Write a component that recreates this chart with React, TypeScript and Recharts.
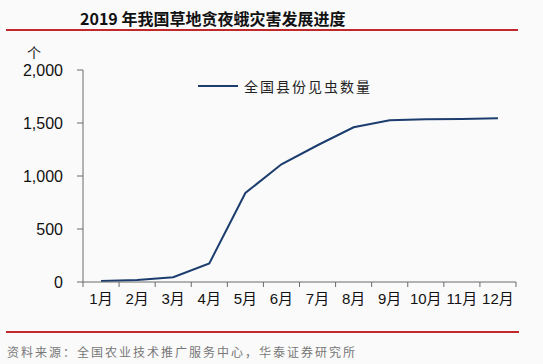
import React from "react";
import { LineChart, Line, XAxis, YAxis } from "recharts";

const MONTHS = ["1月", "2月", "3月", "4月", "5月", "6月", "7月", "8月", "9月", "10月", "11月", "12月"];
const COUNTIES = [10, 18, 45, 175, 840, 1110, 1290, 1460, 1525, 1535, 1538, 1545];
const Y_TICKS = [0, 500, 1000, 1500, 2000];
const X_BOUNDS = [0.5, 1.5, 2.5, 3.5, 4.5, 5.5, 6.5, 7.5, 8.5, 9.5, 10.5, 11.5, 12.5];

const SERIES_NAME = "全国县份见虫数量";
const TITLE = "2019 年我国草地贪夜蛾灾害发展进度";
const SOURCE = "资料来源：全国农业技术推广服务中心，华泰证券研究所";

const data = MONTHS.map((m, i) => ({ idx: i + 1, month: m, value: COUNTIES[i] }));

const W = 543;
const H = 364;
const MARGIN = { top: 70, right: 27, bottom: 52, left: 23 };
const Y_AXIS_W = 60;
const PLOT_W = W - MARGIN.left - MARGIN.right - Y_AXIS_W;
const HALF_BAND = PLOT_W / MONTHS.length / 2;

const NAVY = "#1c3d6e";
const AXIS = "#6b6b6b";
const BG = "#fafafa";
const RED = "#c0282b";
const NUM_FONT = "'Liberation Sans', Arial, 'Noto Sans CJK SC', sans-serif";
const CJK_FONT = "'Noto Sans CJK SC', 'Liberation Sans', sans-serif";

// label sits in the middle of the band, tick line at its boundary
function MonthTick(props: any) {
  const { x, y, payload } = props;
  const i = Math.round(payload.value - 0.5);
  if (i >= MONTHS.length) return null;
  return (
    <text x={x + HALF_BAND} y={y + 15} textAnchor="middle" fontSize={15} fill="#111" fontFamily={NUM_FONT}>
      {MONTHS[i]}
    </text>
  );
}

export default function App() {
  return (
    <div style={{ position: "absolute", left: 0, top: 0, width: W, height: H, background: BG, overflow: "hidden" }}>
      <div
        style={{
          position: "absolute",
          left: 80,
          top: 6,
          fontFamily: CJK_FONT,
          fontWeight: "bold",
          fontSize: 16,
          color: "#111",
          whiteSpace: "nowrap",
        }}
      >
        {TITLE}
      </div>
      <div style={{ position: "absolute", left: 6, top: 29, width: 512, height: 2, background: RED }} />
      <div style={{ position: "absolute", left: 27, top: 42, fontFamily: CJK_FONT, fontSize: 14, color: "#222" }}>个</div>

      <div style={{ position: "absolute", left: 0, top: 0 }}>
        <LineChart width={W} height={H} data={data} margin={MARGIN}>
          <XAxis
            dataKey="idx"
            type="number"
            domain={[0.5, 12.5]}
            ticks={X_BOUNDS}
            interval={0}
            height={30}
            stroke={AXIS}
            tickSize={5}
            tick={<MonthTick />}
          />
          <YAxis
            width={Y_AXIS_W}
            domain={[0, 2000]}
            ticks={Y_TICKS}
            interval={0}
            stroke={AXIS}
            tickSize={6}
            tickMargin={14}
            tick={{ fill: "#111", fontSize: 16, fontFamily: NUM_FONT }}
            tickFormatter={(v: number) => v.toLocaleString("en-US")}
          />
          <Line
            dataKey="value"
            name={SERIES_NAME}
            stroke={NAVY}
            strokeWidth={2}
            dot={false}
            isAnimationActive={false}
          />
        </LineChart>
      </div>

      <div
        style={{
          position: "absolute",
          left: 198,
          top: 76,
          display: "flex",
          alignItems: "center",
          fontFamily: CJK_FONT,
          fontSize: 14,
          color: "#222",
          whiteSpace: "nowrap",
        }}
      >
        <span style={{ display: "inline-block", width: 40, height: 2, background: NAVY, marginRight: 6 }} />
        <span style={{ letterSpacing: 2 }}>{SERIES_NAME}</span>
      </div>

      <div style={{ position: "absolute", left: 6, top: 331, width: 513, height: 2, background: RED }} />
      <div
        style={{
          position: "absolute",
          left: 7,
          top: 343,
          fontFamily: CJK_FONT,
          fontSize: 12,
          letterSpacing: 2,
          color: "#777",
          whiteSpace: "nowrap",
        }}
      >
        {SOURCE}
      </div>
    </div>
  );
}
